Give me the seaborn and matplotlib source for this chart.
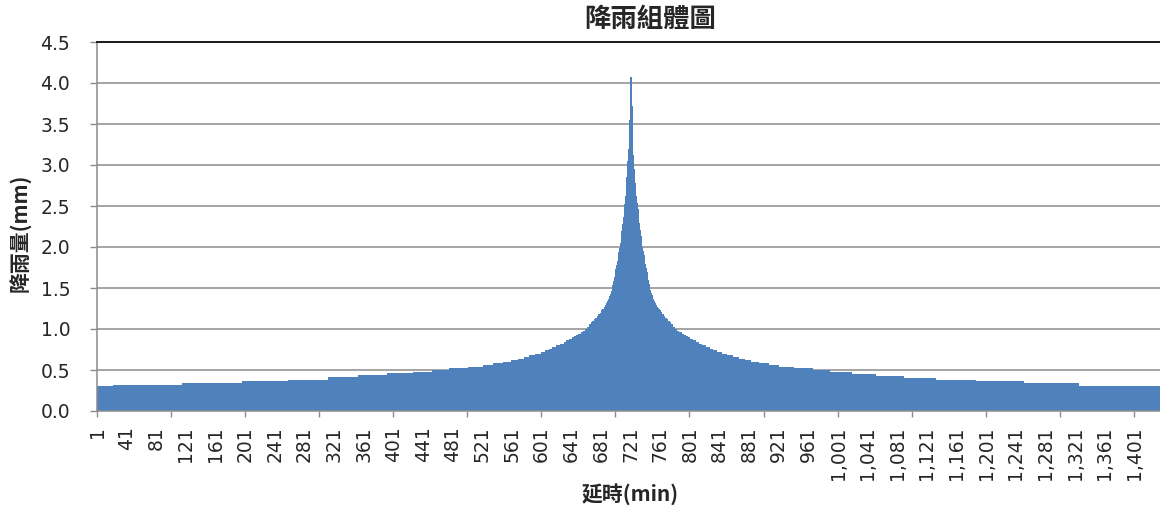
import numpy as np
import pandas as pd
import matplotlib
matplotlib.use("Agg")
import matplotlib.pyplot as plt
import seaborn as sns

# ---- rainfall hyetograph data (1-minute steps, 1440 minutes) ----
# Rising limb, from the start of the storm up to the minute before the peak.
# Each depth (mm) is held for the given number of minutes.
left_minutes = [22, 93, 81, 62, 54, 41, 39, 35, 26,
                22, 26, 20, 14, 14, 10, 9, 8, 8, 8, 7, 6, 5, 5,
                5, 5, 5, 4, 4, 3, 3, 3, 3, 3, 3, 3, 3, 3,
                2, 2, 2, 2, 2, 2, 2] + [1] * 41
left_mm = [0.30, 0.32, 0.34, 0.36, 0.38, 0.41, 0.44, 0.46, 0.48,
           0.50, 0.52, 0.54, 0.56, 0.58, 0.60, 0.62, 0.64, 0.66, 0.68, 0.70, 0.72, 0.74, 0.76,
           0.78, 0.80, 0.82, 0.84, 0.86, 0.88, 0.90, 0.91, 0.93, 0.94, 0.96, 0.98, 1.00, 1.03,
           1.06, 1.08, 1.10, 1.12, 1.14, 1.16, 1.18,
           1.20, 1.21, 1.23, 1.24, 1.25, 1.26, 1.27, 1.29, 1.30, 1.32,
           1.34, 1.36, 1.38, 1.40, 1.43, 1.46, 1.50, 1.54, 1.59, 1.64,
           1.69, 1.73, 1.78, 1.83, 1.89, 1.94, 1.99, 2.05, 2.12, 2.20,
           2.28, 2.37, 2.45, 2.53, 2.62, 2.70, 2.85, 3.05, 3.20, 3.42, 3.55]

# Peak minute
peak_mm = 4.07

# Falling limb, from the minute after the peak to the end of the storm.
right_minutes = [1] * 41 + [2, 2, 2, 2, 2, 2, 2,
                 3, 3, 3, 3, 3, 3, 3, 3, 3, 4, 4, 5, 5, 5,
                 5, 5, 6, 7, 8, 8, 8, 9, 10, 14, 14, 20, 26, 22,
                 30, 33, 37, 44, 54, 64, 75, 97, 18]
right_mm = [3.72, 3.30, 3.12, 2.95, 2.78, 2.70, 2.62, 2.54, 2.46, 2.38,
            2.29, 2.21, 2.13, 2.06, 2.00, 1.95, 1.90, 1.84, 1.79, 1.74,
            1.69, 1.65, 1.60, 1.55, 1.51, 1.47, 1.44, 1.41, 1.38, 1.36,
            1.34, 1.32, 1.30, 1.29, 1.27, 1.26, 1.25, 1.24, 1.23, 1.21, 1.20,
            1.18, 1.16, 1.14, 1.12, 1.10, 1.08, 1.06,
            1.03, 1.00, 0.98, 0.96, 0.94, 0.93, 0.91, 0.90, 0.88, 0.86, 0.84, 0.82, 0.80, 0.78,
            0.76, 0.74, 0.72, 0.70, 0.68, 0.66, 0.64, 0.62, 0.60, 0.58, 0.56, 0.54, 0.52, 0.50,
            0.48, 0.455, 0.43, 0.40, 0.38, 0.36, 0.34, 0.31, 0.30]

tick_every = 40
title = "降雨組體圖"
x_title = "延時(min)"
y_title = "降雨量(mm)"

rain = np.concatenate([np.repeat(left_mm, left_minutes), [peak_mm],
                       np.repeat(right_mm, right_minutes)])
minute = np.arange(1, len(rain) + 1)
df = pd.DataFrame({"minute": minute, "rain": rain})

# ---- styling ----
sns.set_style("white")
plt.rcParams["font.family"] = ["DejaVu Sans", "Noto Sans CJK TC"]
cjk = ["Noto Sans CJK TC", "DejaVu Sans"]
bar_color = "#4F81BD"
grid_color = "#8C8C8C"

fig = plt.figure(figsize=(11.6, 5.12), dpi=100)
W, H = 1160, 512
x0, x1, y_top, y_bot = 96.7, 1163.7, 42, 411
ax = fig.add_axes([x0 / W, 1 - y_bot / H, (x1 - x0) / W, (y_bot - y_top) / H])

sns.barplot(data=df, x="minute", y="rain", color=bar_color, saturation=1,
            width=1.0, errorbar=None, linewidth=0.6, edgecolor=bar_color, ax=ax)
# solid fill without seams between the narrow bars
for p in ax.patches:
    p.set_antialiased(False)

ax.set_xlim(-0.5, len(rain) - 0.5)
ax.set_ylim(0, 4.5)
ax.set_yticks(np.arange(0, 4.51, 0.5))
ax.set_yticklabels([f"{v:.1f}" for v in np.arange(0, 4.51, 0.5)])
ax.yaxis.grid(True, color=grid_color, linewidth=1.1)
ax.set_axisbelow(True)

pos = np.arange(0, len(rain), tick_every)
ax.set_xticks(pos)
ax.set_xticklabels([f"{p + 1:,}" for p in pos], rotation=90)
ax.set_xticks(np.arange(-0.5, len(rain), 100), minor=True)
ax.tick_params(axis="x", which="major", length=0, pad=11, labelsize=13.5)
ax.tick_params(axis="x", which="minor", length=4, width=1, color=grid_color,
               direction="out", bottom=True)
ax.tick_params(axis="y", length=5, width=1, color=grid_color, pad=14,
               labelsize=13.5, left=True)
ax.set_xlabel("")
ax.set_ylabel("")

for side in ("left", "bottom"):
    ax.spines[side].set_color(grid_color)
    ax.spines[side].set_linewidth(1.1)
ax.spines["right"].set_visible(False)
ax.spines["top"].set_color("#1A1A1A")
ax.spines["top"].set_linewidth(1.4)

fig.text(650 / W, 1 - 19 / H, title, ha="center", va="center",
         fontsize=19, fontweight="bold", family=cjk)
fig.text(630 / W, 1 - 494 / H, x_title, ha="center", va="center",
         fontsize=15, fontweight="bold", family=cjk)
fig.text(20 / W, 1 - 233 / H, y_title, ha="center", va="center", rotation=90,
         fontsize=15, fontweight="bold", family=cjk)

fig.savefig("out.png", dpi=100)
